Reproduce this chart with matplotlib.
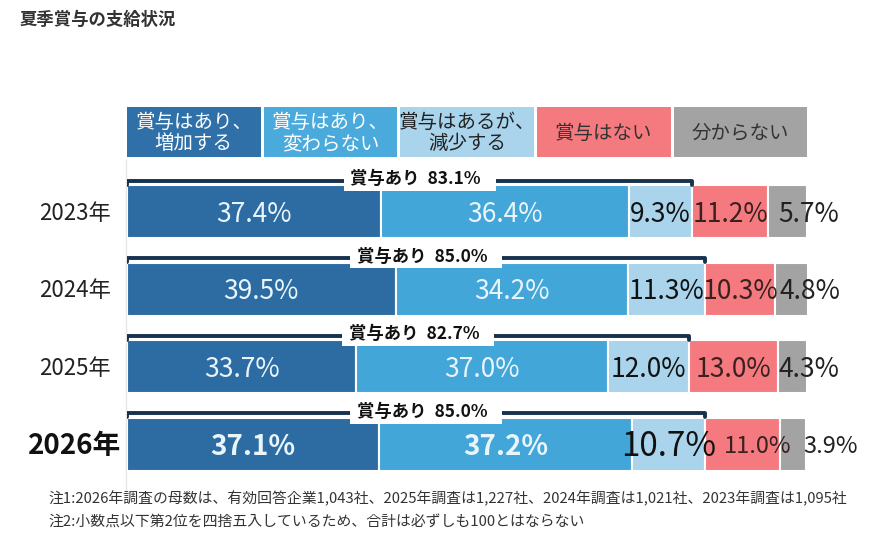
import matplotlib.pyplot as plt
import numpy as np

plt.rcParams['font.family'] = ['Noto Sans CJK JP', 'DejaVu Sans']

# data
years = ['2023年', '2024年', '2025年', '2026年']
categories = ['賞与はあり、\n増加する', '賞与はあり、\n変わらない', '賞与はあるが、\n減少する', '賞与はない', '分からない']
values = np.array([
    [37.4, 36.4, 9.3, 11.2, 5.7],
    [39.5, 34.2, 11.3, 10.3, 4.8],
    [33.7, 37.0, 12.0, 13.0, 4.3],
    [37.1, 37.2, 10.7, 11.0, 3.9],
])
bonus_total = [83.1, 85.0, 82.7, 85.0]

title = '夏季賞与の支給状況'
notes = ['注1:2026年調査の母数は、有効回答企業1,043社、2025年調査は1,227社、2024年調査は1,021社、2023年調査は1,095社',
         '注2:小数点以下第2位を四捨五入しているため、合計は必ずしも100とはならない']

colors = ['#2c6ca3', '#43a6d9', '#a9d4ec', '#f47a7f', '#a3a3a3']
head_colors = ['#2f70a8', '#4aaadc', '#a9d4ec', '#f47a7f', '#a3a3a3']
head_text = ['white', 'white', '#222222', '#333333', '#333333']
label_text = ['#eaf5fb', '#eaf5fb', '#111111', '#3a2020', '#222222']
navy = '#17324f'

fig = plt.figure(figsize=(8.7, 5.52), dpi=100)
W, H = 870, 552
# axes: x 0..100 -> px 127..807, y px 100..480
ax = fig.add_axes([127 / W, 1 - 480 / H, 680 / W, 380 / H])
ax.set_xlim(0, 100)
ax.set_ylim(3.46, -1.44)
ax.axis('off')

ypos = np.arange(len(years))
bar_h = 0.68

# faint axis line
ax.plot([-0.1, -0.1], [-0.66, 3.6], color='#e6e6e6', lw=1, clip_on=False, zorder=0)

left = np.zeros(len(years))
for j in range(len(categories)):
    ax.barh(ypos, values[:, j], left=left, height=bar_h, color=colors[j],
            edgecolor='white', linewidth=1.5, zorder=2)
    for i in range(len(years)):
        v = values[i, j]
        big = (i == len(years) - 1)
        xc = left[i] + v / 2
        if j == 4:
            xc = left[i] + v + 0.3
        if big and j >= 3:
            xc += 2.3 if j == 3 else 3.2
        if big and j == 2:
            fs, fw, col = 24, 'normal', '#111111'
        elif big:
            fs, fw, col = 20 if j < 2 else 17, 'bold' if j < 2 else 'normal', label_text[j]
        else:
            fs, fw, col = 19, 'normal', label_text[j]
        ax.text(xc, ypos[i] + 0.03, f'{v:.1f}%', ha='center', va='center',
                fontsize=fs, fontweight=fw, color=col, zorder=4)
    left += values[:, j]

# brackets for 賞与あり
for i in range(len(years)):
    end = values[i, :3].sum()
    yb = ypos[i] - 0.40
    ax.plot([0, 0, end, end], [yb + 0.05, yb, yb, yb + 0.05], color=navy, lw=2.8,
            solid_joinstyle='round', solid_capstyle='round', zorder=3)
    ax.text(end / 2 + 1.5, yb - 0.02, f' 賞与あり  {bonus_total[i]:.1f}%   ', ha='center', va='center',
            fontsize=12.5, fontweight='bold', color='#111111', zorder=5,
            bbox=dict(facecolor='white', edgecolor='none', pad=2))

# header boxes
hw = 19.65
gap = 0.45
hy = -1.03
for j, cat in enumerate(categories):
    x0 = j * (hw + gap)
    ax.barh(hy, hw, left=x0, height=0.645, color=head_colors[j], edgecolor='none', zorder=2)
    ax.text(x0 + hw / 2, hy + 0.02, cat, ha='center', va='center', fontsize=14,
            color=head_text[j], linespacing=1.0, zorder=3)

# year labels
for i, y in enumerate(years):
    big = (i == len(years) - 1)
    ax.text(-7.7, ypos[i] + 0.02, y, ha='center', va='center',
            fontsize=20 if big else 16, fontweight='bold' if big else 'normal',
            color='#111111' if big else '#222222')

fig.text(20 / W, 1 - 20 / H, title, ha='left', va='center', fontsize=12.5,
         fontweight='bold', color='#333333')
fig.text(48 / W, 1 - 498 / H, notes[0], ha='left', va='center', fontsize=10.7, color='#333333')
fig.text(48 / W, 1 - 523 / H, notes[1], ha='left', va='center', fontsize=10.7, color='#333333')

fig.savefig('out.png', dpi=100, facecolor='white')
